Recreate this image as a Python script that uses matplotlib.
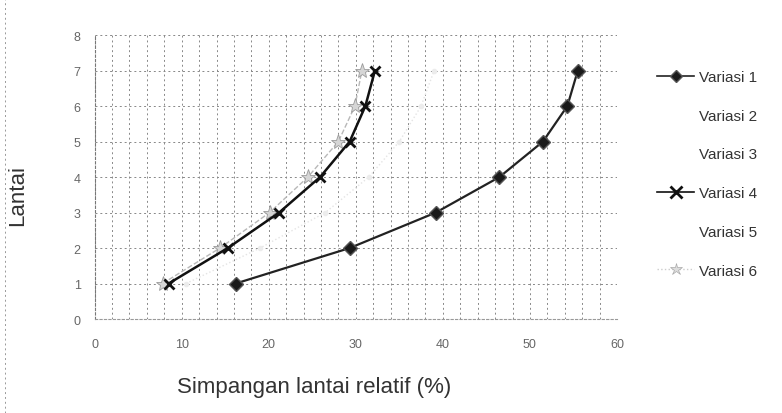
import matplotlib
matplotlib.use('Agg')
import matplotlib.pyplot as plt
from matplotlib.lines import Line2D

plt.rcParams['font.family'] = ['Liberation Sans', 'DejaVu Sans']

lantai = [1, 2, 3, 4, 5, 6, 7]
variasi_1 = [16.2, 29.3, 39.2, 46.5, 51.5, 54.3, 55.5]
variasi_4 = [8.5, 15.3, 21.2, 25.9, 29.3, 31.1, 32.2]
variasi_5 = [10.5, 19.0, 26.5, 31.5, 35.0, 37.5, 39.0]
variasi_6 = [7.8, 14.4, 20.1, 24.5, 28.0, 29.9, 30.7]
labels = ['Variasi 1', 'Variasi 2', 'Variasi 3', 'Variasi 4', 'Variasi 5', 'Variasi 6']

fig = plt.figure(figsize=(7.82, 4.14), dpi=100)
ax = fig.add_axes([0.121, 0.227, 0.668, 0.686])

ax.plot(variasi_5, lantai, color='#e4e4e4', lw=1.0, ls=':', marker='o', ms=3,
        mfc='#ececec', mec='#ececec', zorder=2)
ax.plot(variasi_6, lantai, color='#b8b8b8', lw=1.0, ls='--', marker='*', ms=11,
        mfc='#d6d6d6', mec='#9a9a9a', mew=0.6, zorder=3)
ax.plot(variasi_4, lantai, color='#111111', lw=1.8, marker='x', ms=7, mew=2.0, zorder=4)
ax.plot(variasi_1, lantai, color='#222222', lw=1.6, marker='D', ms=7,
        mfc='#1a1a1a', mec='#555555', zorder=5)

ax.set_xlim(0, 60)
ax.set_ylim(0, 8)
ax.set_xticks(range(0, 61, 10))
ax.set_yticks(range(0, 9))
ax.set_xticks(range(0, 61, 2), minor=True)
ax.grid(True, which='both', axis='x', color='#888888', ls=(0, (2, 3)), lw=0.7)
ax.grid(True, which='major', axis='y', color='#888888', ls=(0, (2, 3)), lw=0.7)
ax.tick_params(which='both', length=0, labelsize=9, labelcolor='#666666')
ax.tick_params(axis='x', pad=14)
ax.tick_params(axis='y', pad=10)
for s in ax.spines.values():
    s.set_visible(False)
ax.spines['left'].set_visible(True)
ax.spines['left'].set_linestyle((0, (2, 2)))
ax.spines['left'].set_color('#777777')
ax.spines['bottom'].set_visible(True)
ax.spines['bottom'].set_linestyle((0, (2, 2)))
ax.spines['bottom'].set_color('#999999')

ax.set_xlabel('Simpangan lantai relatif (%)', fontsize=16, color='#333333')
ax.xaxis.set_label_coords(0.42, -0.2)
ax.set_ylabel('Lantai', fontsize=16, color='#333333')
ax.yaxis.set_label_coords(-0.128, 0.44)

handles = [
    Line2D([], [], color='#222222', lw=1.2, marker='D', ms=6, mfc='#1a1a1a', mec='#555555'),
    Line2D([], [], color='none'),
    Line2D([], [], color='none'),
    Line2D([], [], color='#111111', lw=1.2, marker='x', ms=8, mew=2.0),
    Line2D([], [], color='none'),
    Line2D([], [], color='#cccccc', lw=1.0, ls=':', marker='*', ms=9, mfc='#dddddd', mec='#aaaaaa', mew=0.5),
]
fig.legend(handles, labels, loc='upper left', bbox_to_anchor=(0.823, 0.862), frameon=False,
           fontsize=11, labelspacing=1.62, handlelength=2.4, handletextpad=0.3,
           labelcolor='#333333')

fig.add_artist(Line2D([0.006, 0.006], [0.0, 1.0], color='#999999', lw=0.7, ls=(0, (2, 3))))

fig.savefig('out.png', dpi=100)
